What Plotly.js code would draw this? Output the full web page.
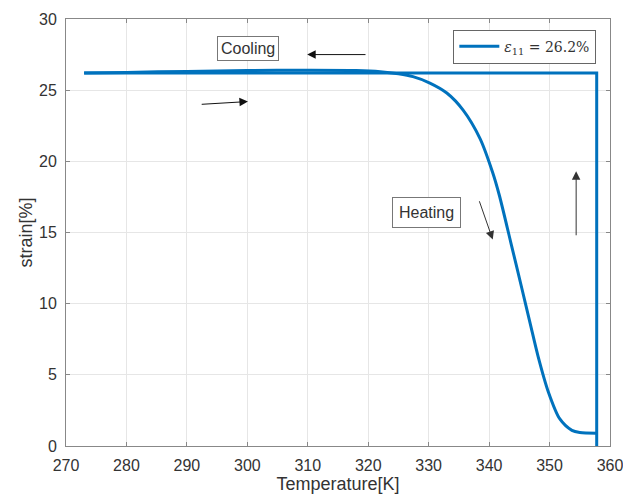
<!DOCTYPE html>
<html><head><meta charset="utf-8">
<script src="https://cdn.plot.ly/plotly-3.0.1.min.js"></script>
<style>html,body{margin:0;padding:0;background:#fff}#chart{width:623px;height:501px}</style>
</head><body><div id="chart"></div>
<script>
// Heating branch (temperature K, strain %)
const heatT = [273, 280, 290, 300, 310, 318, 322, 325, 327.4, 330.2, 333, 335.7, 338.5, 340.6, 341.7, 343.7, 345.4, 346.8, 348.1, 349.8, 351.7, 353.7, 355, 357.8];
const heatS = [26.2, 26.25, 26.32, 26.38, 26.4, 26.38, 26.3, 26.15, 25.95, 25.5, 24.8, 23.6, 21.6, 19.2, 17.6, 14.1, 11.1, 8.6, 6.3, 3.8, 1.9, 1.1, 0.95, 0.9];
// Jump at the top temperature, then cooling branch
const coolT = [357.8, 357.8, 273];
const coolS = [0, 26.2, 26.2];
const xTicks = [270, 280, 290, 300, 310, 320, 330, 340, 350, 360];
const yTicks = [0, 5, 10, 15, 20, 25, 30];

const heating = {
  x: heatT, y: heatS, type: 'scatter', mode: 'lines',
  line: {color: '#0072BD', width: 3, shape: 'spline', smoothing: 0.8},
  name: '<i>ε</i><sub>11</sub> = 26.2%', legendgroup: 'a'
};
const cooling = {
  x: coolT, y: coolS, type: 'scatter', mode: 'lines',
  line: {color: '#0072BD', width: 3},
  showlegend: false, legendgroup: 'a'
};

const fontBase = {family: 'Liberation Sans, Arial, sans-serif', size: 16, color: '#333'};
const arrowStyle = {showarrow: true, arrowhead: 2, arrowsize: 1.7, arrowwidth: 1, arrowcolor: '#111', axref: 'x', ayref: 'y', text: ''};

const layout = {
  width: 623, height: 501,
  margin: {l: 66, r: 13, t: 19, b: 55},
  paper_bgcolor: '#fff', plot_bgcolor: '#fff',
  font: fontBase,
  showlegend: true,
  legend: {x: 0.712, y: 0.975, xanchor: 'left', yanchor: 'top', bordercolor: '#666', borderwidth: 1,
           bgcolor: '#fff', itemwidth: 40,
           font: {family: 'DejaVu Serif, Liberation Serif, serif', size: 14, color: '#333'}},
  xaxis: {range: [270, 360], tickvals: xTicks, ticks: 'inside', ticklen: 4, tickcolor: '#888',
          showline: true, linecolor: '#888', linewidth: 1, mirror: 'ticks',
          showgrid: true, gridcolor: '#e6e6e6', zeroline: false, automargin: false,
          tickfont: {size: 16, color: '#333'}, ticklabelstandoff: 5, ticklabeloverflow: 'allow',
          title: {text: 'Temperature[K]', font: {size: 18, color: '#333'}, standoff: 3}},
  yaxis: {range: [0, 30], tickvals: yTicks, ticks: 'inside', ticklen: 4, tickcolor: '#888',
          showline: true, linecolor: '#888', linewidth: 1, mirror: 'ticks',
          showgrid: true, gridcolor: '#e6e6e6', zeroline: false, automargin: false,
          tickfont: {size: 16, color: '#333'}, ticklabelstandoff: 5, ticklabeloverflow: 'allow',
          title: {text: 'strain[%]', font: {size: 18, color: '#333'}, standoff: 1}},
  annotations: [
    {x: 300.1, y: 27.9, xref: 'x', yref: 'y', text: 'Cooling', showarrow: false,
     font: {size: 16, color: '#333'}, bordercolor: '#777', borderwidth: 1, borderpad: 3, bgcolor: '#fff'},
    {x: 329.7, y: 16.4, xref: 'x', yref: 'y', text: 'Heating', showarrow: false,
     font: {size: 16, color: '#333'}, bordercolor: '#777', borderwidth: 1, borderpad: 6, bgcolor: '#fff'},
    Object.assign({}, arrowStyle, {x: 309.9, y: 27.5, ax: 319.8, ay: 27.5, xref: 'x', yref: 'y'}),
    Object.assign({}, arrowStyle, {x: 300.1, y: 24.2, ax: 292.2, ay: 24.0, xref: 'x', yref: 'y'}),
    Object.assign({}, arrowStyle, {x: 340.6, y: 14.5, ax: 338.3, ay: 17.3, xref: 'x', yref: 'y', arrowcolor: '#333'}),
    Object.assign({}, arrowStyle, {x: 354.4, y: 19.3, ax: 354.4, ay: 14.7, xref: 'x', yref: 'y', arrowcolor: '#333'})
  ]
};

Plotly.newPlot('chart', [heating, cooling], layout, {displayModeBar: false, staticPlot: true});
</script>
</body></html>
